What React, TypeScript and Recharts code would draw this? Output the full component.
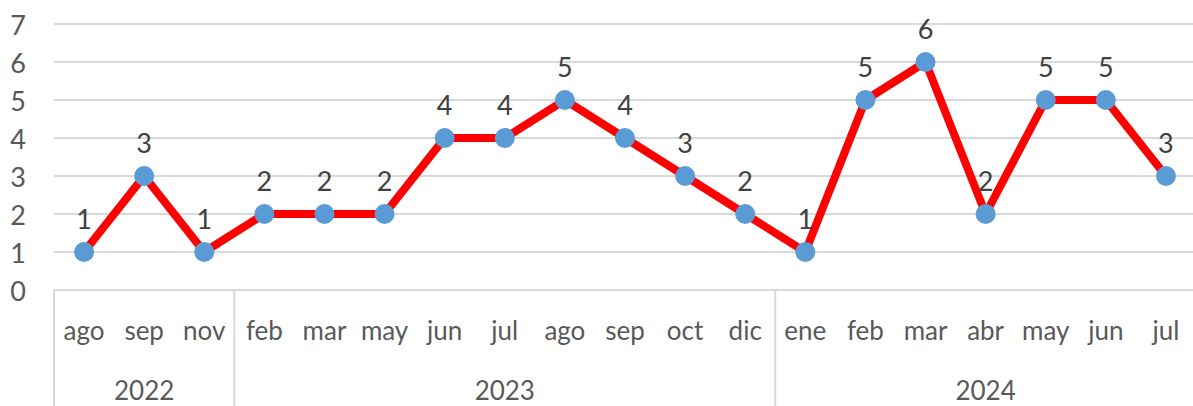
import { LineChart, Line, XAxis, YAxis, CartesianGrid, LabelList } from "recharts";

const months = ["ago", "sep", "nov", "feb", "mar", "may", "jun", "jul", "ago", "sep", "oct", "dic", "ene", "feb", "mar", "abr", "may", "jun", "jul"];
const years = ["2022", "2022", "2022", "2023", "2023", "2023", "2023", "2023", "2023", "2023", "2023", "2023", "2024", "2024", "2024", "2024", "2024", "2024", "2024"];
const values = [1, 3, 1, 2, 2, 2, 4, 4, 5, 4, 3, 2, 1, 5, 6, 2, 5, 5, 3];
const yTicks = [0, 1, 2, 3, 4, 5, 6, 7];

const data = months.map((m, i) => ({ key: `${years[i]}-${m}-${i}`, month: m, year: years[i], v: values[i] }));

const FONT = "Lato, 'Open Sans', sans-serif";
const TEXT = "#595959";
const LINE = "#D9D9D9";

function MonthTick(props: any) {
  const { x, y, payload } = props;
  const i = payload.index;
  const bw = payload.offset ? payload.offset * 2 : 60.1;
  const yr = years[i];
  const isStart = i === 0 || years[i - 1] !== yr;
  const isEnd = i === years.length - 1;
  let yearLabel = null;
  if (isStart) {
    const len = years.filter((y2) => y2 === yr).length;
    const cx = x - bw / 2 + (len * bw) / 2;
    yearLabel = (
      <text x={cx} y={y + 100} textAnchor="middle" dominantBaseline="central" fill={TEXT} fontSize={26} fontFamily={FONT}>
        {yr}
      </text>
    );
  }
  return (
    <g>
      {isStart && <line x1={x - bw / 2} x2={x - bw / 2} y1={y} y2={y + 120} stroke={LINE} strokeWidth={2} />}
      {isEnd && <line x1={x + bw / 2} x2={x + bw / 2} y1={y} y2={y + 120} stroke={LINE} strokeWidth={2} />}
      <text x={x} y={y + 40} textAnchor="middle" dominantBaseline="central" fill={TEXT} fontSize={26} fontFamily={FONT}>
        {months[i]}
      </text>
      {yearLabel}
    </g>
  );
}

function YTick(props: any) {
  const { y, payload } = props;
  return (
    <text x={18} y={y} textAnchor="middle" dominantBaseline="central" fill={TEXT} fontSize={27} fontFamily={FONT}>
      {payload.value}
    </text>
  );
}

export default function App() {
  return (
    <div style={{ position: "absolute", left: 0, top: 0, width: 1193, height: 406, overflow: "hidden", background: "#fff" }}>
      <LineChart width={1196} height={406} data={data} margin={{ top: 24, right: 0, bottom: 0, left: 0 }}>
        <CartesianGrid vertical={false} stroke={LINE} strokeWidth={2} />
        <XAxis
          dataKey="key"
          scale="band"
          interval={0}
          height={116}
          tickSize={0}
          tickMargin={0}
          axisLine={{ stroke: LINE, strokeWidth: 2 }}
          tickLine={false}
          tick={<MonthTick />}
        />
        <YAxis
          domain={[0, 7]}
          ticks={yTicks}
          width={54}
          axisLine={false}
          tickLine={false}
          tick={<YTick />}
        />
        <Line
          type="linear"
          dataKey="v"
          stroke="#FF0000"
          strokeWidth={8}
          dot={{ r: 10, fill: "#5B9BD5", stroke: "none" }}
          activeDot={false}
          isAnimationActive={false}
        >
          <LabelList dataKey="v" position="top" offset={23} fill="#404040" fontSize={27} fontFamily={FONT} />
        </Line>
      </LineChart>
    </div>
  );
}
